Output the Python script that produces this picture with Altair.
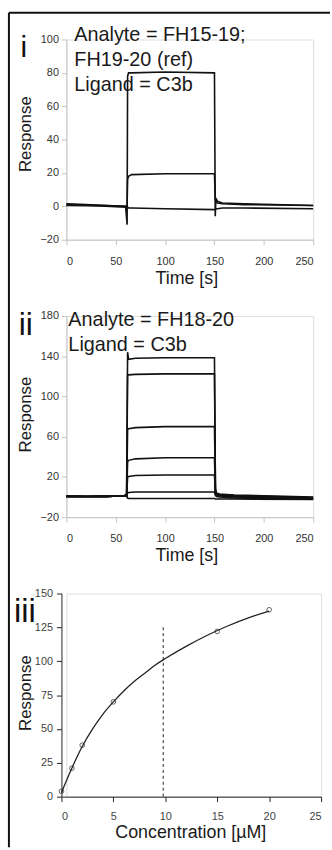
import altair as alt
import pandas as pd

# ---------------- data ----------------
# Panel i: sensorgrams, Ligand = C3b
time_i = [0, 20, 40, 60, 61.5, 62, 63, 66, 100, 150, 150.8, 151.5, 153, 158, 180, 250]
resp_i_high = [1.5, 1, 0.5, 0, -11, 78, 80, 80, 80.5, 80, -6, 5, 3, 2, 1.5, 0.5]
resp_i_mid = [1, 0.8, 0.5, 0, 0, 16, 18, 19, 19.5, 19.5, 4, 2.5, 2, 1.5, 1, 0.5]
resp_i_ref = [0.5, 0.3, 0, -0.5, -0.5, -0.5, -1, -1, -1.5, -2, -2, -1.5, -1.5, -1, -1, -1.5]

# Panel ii: sensorgrams, Analyte = FH18-20
time_ii = [0, 20, 40, 55, 60, 61, 62, 63, 70, 100, 150, 151, 152, 155, 170, 250]
resp_ii = {
    "20": [0.7, 0.5, 0.7, 1, 1.5, 1, 144, 137, 138, 138.5, 138.5, 8, 4, 3, 2, 0],
    "15": [0.7, 0.5, 0.7, 1, 1.5, 1, 121, 121.5, 122, 122.5, 122.5, 6, 3.5, 2.5, 1.5, -0.5],
    "10": [0.7, 0.5, 0.7, 1, 1.5, 1, 67, 68, 69, 70, 70, 5, 3, 2, 1, -1],
    "5": [0.7, 0.5, 0.7, 1, 1.5, 1, 35, 36.5, 38, 39, 39, 4, 2.5, 1.5, 0.5, -1.5],
    "2": [0.7, 0.5, 0.7, 1, 1.5, 1, 19.5, 20.5, 21.5, 22, 22, 3, 2, 1, 0, -2],
    "1": [0.7, 0.5, 0.7, 1, 1.5, 1, 4, 4.5, 5, 5, 5, 1.5, 0.5, 0, -1, -2],
    "0": [0.7, 0.5, 0.7, 1, 1.5, 1, -1, -1.5, -1.5, -1.5, -1.5, -2, -2, -2, -2, -2.5],
}

# Panel iii: steady-state response vs concentration
conc_pts = [0, 1, 2, 5, 15, 20]
resp_pts = [4, 21, 38, 70, 122, 138]
conc_fit = [0, 1, 2, 3, 4, 5, 6, 7, 8, 9, 10, 12, 14, 16, 18, 20]
resp_fit = [3, 21, 37, 50, 61, 70, 78, 85, 91, 97, 102, 111, 119, 126, 132, 137]
kd_conc = [9.8]
kd_top = [125]

# tick labels
ticks_time = [0, 50, 100, 150, 200, 250]
ticks_i = [-20, 0, 20, 40, 60, 80, 100]
ticks_ii = [-20, 20, 60, 100, 140, 180]
ticks_conc = [0, 5, 10, 15, 20, 25]
ticks_iii = [0, 25, 50, 75, 100, 125, 150]

# ---------------- tables ----------------
df_i = pd.concat([
    pd.DataFrame({"t": time_i, "r": resp_i_high, "s": "FH15-19"}),
    pd.DataFrame({"t": time_i, "r": resp_i_mid, "s": "FH19-20"}),
    pd.DataFrame({"t": time_i, "r": resp_i_ref, "s": "ref"}),
])
df_ii = pd.concat([pd.DataFrame({"t": time_ii, "r": v, "s": k}) for k, v in resp_ii.items()])
df_pts = pd.DataFrame({"c": conc_pts, "r": resp_pts})
df_fit = pd.DataFrame({"c": conc_fit, "r": resp_fit})
df_kd = pd.DataFrame({"c": kd_conc, "r": [0], "r1": kd_top})
one = pd.DataFrame({"a": [0]})

FONT = "Liberation Sans"
NARROW = "Liberation Sans Narrow, Arial Narrow, Liberation Sans"
LINE = "#111111"
LBL = 11


def light_axis(values, title, **kw):
    return alt.Axis(values=values, title=title, grid=False, domainColor="#c4c4c4",
                    tickColor="#c4c4c4", tickSize=5, labelFont=NARROW, labelFontSize=LBL,
                    labelColor="#333333", labelOverlap=False, titleFont=FONT,
                    titleFontWeight="normal", titleColor="#1a1a1a", **kw)


W = 249

# ---------------- panel i ----------------
xi = alt.X("t:Q", scale=alt.Scale(domain=[0, 250], nice=False),
           axis=light_axis(ticks_time, "Time [s]", labelPadding=11,
                           titleY=44, titleX=121, titleBaseline="alphabetic", titleFontSize=18))
yi = alt.Y("r:Q", scale=alt.Scale(domain=[-20, 100], nice=False),
           axis=light_axis(ticks_i, "Response", labelPadding=3,
                           titleX=-36, titleY=95, titleAngle=-90, titleAlign="center",
                           titleBaseline="alphabetic", titleFontSize=17))
lines_i = alt.Chart(df_i).mark_line(color=LINE, strokeWidth=1.6).encode(
    x=xi, y=yi, detail="s:N", order="t:Q")
ann_i = alt.Chart(pd.DataFrame({"t": [8], "r": [98.8],
                                "lab": ["Analyte = FH15-19;\nFH19-20 (ref)\nLigand = C3b"]})).mark_text(
    align="left", baseline="alphabetic", font=FONT, fontSize=20, lineHeight=25,
    lineBreak="\n", color="#1a1a1a").encode(x=xi, y=yi, text="lab:N")
frame_left = alt.Chart(one).mark_rule(color="#111111", strokeWidth=2).encode(
    x=alt.value(-58), y=alt.value(-27), y2=alt.value(815))
frame_top = alt.Chart(one).mark_rule(color="#111111", strokeWidth=2).encode(
    x=alt.value(-58), x2=alt.value(266), y=alt.value(-27))
lab_i = alt.Chart(one).mark_text(text="i", font=FONT, fontSize=30, align="center",
                                 baseline="alphabetic", color="#111111").encode(
    x=alt.value(-43), y=alt.value(18))
panel_i = alt.layer(lines_i, ann_i, frame_left, frame_top, lab_i).properties(width=W, height=202)

# ---------------- panel ii ----------------
xii = alt.X("t:Q", scale=alt.Scale(domain=[0, 250], nice=False),
            axis=light_axis(ticks_time, "Time [s]", labelPadding=11,
                            titleY=44, titleX=121, titleBaseline="alphabetic", titleFontSize=18))
yii = alt.Y("r:Q", scale=alt.Scale(domain=[-20, 180], nice=False),
            axis=light_axis(ticks_ii, "Response", labelPadding=3,
                            titleX=-36, titleY=99, titleAngle=-90, titleAlign="center",
                            titleBaseline="alphabetic", titleFontSize=17))
lines_ii = alt.Chart(df_ii).mark_line(color=LINE, strokeWidth=1.6).encode(
    x=xii, y=yii, detail="s:N", order="t:Q")
ann_ii = alt.Chart(pd.DataFrame({"t": [2], "r": [170],
                                 "lab": ["Analyte = FH18-20\nLigand = C3b"]})).mark_text(
    align="left", baseline="alphabetic", font=FONT, fontSize=20, lineHeight=25,
    lineBreak="\n", color="#1a1a1a").encode(x=xii, y=yii, text="lab:N")
lab_ii = alt.Chart(one).mark_text(text="ii", font=FONT, fontSize=32, align="center",
                                  baseline="alphabetic", color="#111111").encode(
    x=alt.value(-41), y=alt.value(19))
panel_ii = alt.layer(lines_ii, ann_ii, lab_ii).properties(width=W, height=203)

# ---------------- panel iii ----------------
W3 = 257


def dark_axis(values, title, **kw):
    return alt.Axis(values=values, title=title, grid=False, domainColor="#222222",
                    tickColor="#222222", tickSize=5, labelFont=NARROW, labelFontSize=LBL,
                    labelColor="#444444", labelOverlap=False, titleFont=FONT,
                    titleFontWeight="normal", titleColor="#1a1a1a", **kw)


xiii = alt.X("c:Q", scale=alt.Scale(domain=[0, 25], nice=False, range=[-5, W3]),
             axis=dark_axis(ticks_conc, "Concentration [µM]", labelPadding=9,
                            titleY=41, titleX=125, titleBaseline="alphabetic", titleFontSize=18))
yiii = alt.Y("r:Q", scale=alt.Scale(domain=[0, 150], nice=False),
             axis=dark_axis(ticks_iii, "Response", labelPadding=4,
                            offset=5, titleX=-31, titleY=100, titleAngle=-90,
                            titleAlign="center", titleBaseline="alphabetic", titleFontSize=17))
fit_iii = alt.Chart(df_fit).mark_line(color="#222222", strokeWidth=1.3,
                                      interpolate="monotone").encode(x=xiii, y=yiii)
pts_iii = alt.Chart(df_pts).mark_point(shape="circle", filled=False, size=22,
                                       color="#222222", strokeWidth=1).encode(x=xiii, y=yiii)
kd_iii = alt.Chart(df_kd).mark_rule(color="#222222", strokeWidth=1, strokeDash=[3, 3]).encode(
    x=xiii, y=yiii, y2="r1:Q")
lab_iii = alt.Chart(one).mark_text(text="iii", font=FONT, fontSize=33, align="center",
                                   baseline="alphabetic", color="#111111").encode(
    x=alt.value(-42), y=alt.value(29))
panel_iii = alt.layer(fit_iii, pts_iii, kd_iii, lab_iii).properties(width=W3, height=205)

chart = alt.vconcat(panel_i, panel_ii, panel_iii, spacing=77, bounds="flush").properties(
    padding={"left": 7, "top": 7, "right": 0, "bottom": 0}
).configure_view(stroke=None).configure(background="white")

chart.save("out.html", embed_options={"renderer": "svg", "actions": False})
